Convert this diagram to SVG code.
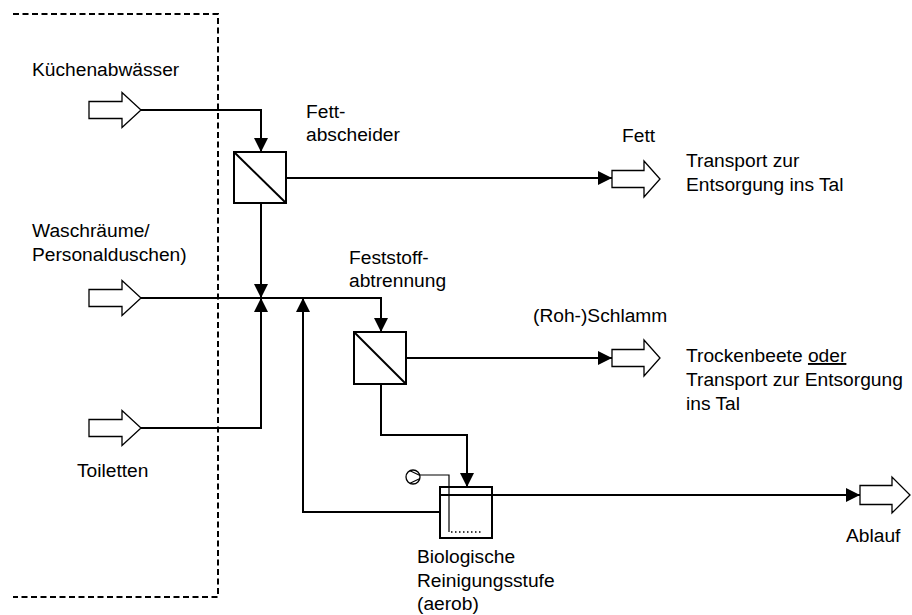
<svg xmlns="http://www.w3.org/2000/svg" width="912" height="615" viewBox="0 0 912 615">
<style>
text{font-family:"Liberation Sans",Arial,sans-serif;font-size:19.2px;fill:#000}
.flow{fill:none;stroke:#000;stroke-width:2}
.thin{fill:none;stroke:#000;stroke-width:1.2}
.box{fill:#fff;stroke:#000;stroke-width:2}
.big{fill:#fff;stroke:#000;stroke-width:1.3;stroke-linejoin:miter}
.dash{fill:none;stroke:#000;stroke-width:2;stroke-dasharray:6 3.5}
</style>
<defs>
<marker id="ah" viewBox="0 0 14 14" refX="14" refY="7" markerWidth="14" markerHeight="14" markerUnits="userSpaceOnUse" orient="auto">
<path d="M0,0 L14,7 L0,14 Z" fill="#000"/>
</marker>
</defs>
<rect width="912" height="615" fill="#fff"/>
<g id="boundary">
<path class="dash" d="M13,14 H218 V597 H13"/>
</g>
<g id="connectors">
<path class="flow" d="M141,110 H261 V152" marker-end="url(#ah)"/>
<path class="flow" d="M286,178 H612" marker-end="url(#ah)"/>
<path class="flow" d="M261,203 V298" marker-end="url(#ah)"/>
<path class="flow" d="M141,428 H261 V298" marker-end="url(#ah)"/>
<path class="flow" d="M141,298 H381 V332" marker-end="url(#ah)"/>
<path class="flow" d="M406,358 H612" marker-end="url(#ah)"/>
<path class="flow" d="M381,384 V435 H467 V487" marker-end="url(#ah)"/>
<path class="flow" d="M440,512 H303 V298" marker-end="url(#ah)"/>
<path class="flow" d="M492,495 H860" marker-end="url(#ah)"/>
</g>
<g id="in-kueche">
<path class="big" d="M89,101.5 H122 V92.5 L141,110 L122,127.5 V118.5 H89 Z"/>
<text x="32" y="76">Küchenabwässer</text>
</g>
<g id="in-wasch">
<path class="big" d="M89,289.5 H122 V280.5 L141,298 L122,315.5 V306.5 H89 Z"/>
<text x="32" y="237">Waschräume/</text>
<text x="32" y="261">Personalduschen)</text>
</g>
<g id="in-toiletten">
<path class="big" d="M89,419.5 H122 V410.5 L141,428 L122,445.5 V436.5 H89 Z"/>
<text x="77" y="477">Toiletten</text>
</g>
<g id="fettabscheider">
<rect class="box" x="234" y="152" width="52" height="51"/>
<path class="flow" d="M234,152 L286,203"/>
<text x="306" y="118">Fett-</text>
<text x="306" y="141">abscheider</text>
</g>
<g id="out-fett">
<path class="big" d="M612,170.5 H644 V161 L660,179 L644,197 V187.5 H612 Z"/>
<text x="622" y="142">Fett</text>
<text x="686" y="167">Transport zur</text>
<text x="686" y="191">Entsorgung ins Tal</text>
</g>
<g id="feststoffabtrennung">
<rect class="box" x="354" y="332" width="52" height="52"/>
<path class="flow" d="M354,332 L406,384"/>
<text x="349" y="264">Feststoff-</text>
<text x="349" y="287">abtrennung</text>
</g>
<g id="out-schlamm">
<path class="big" d="M612,349.5 H644 V340 L660,358 L644,376 V366.5 H612 Z"/>
<text x="533" y="322">(Roh-)Schlamm</text>
<text x="686" y="362">Trockenbeete <tspan text-decoration="underline">oder</tspan></text>
<text x="686" y="386">Transport zur Entsorgung</text>
<text x="686" y="410">ins Tal</text>
</g>
<g id="biologie">
<rect class="box" x="440" y="487" width="52" height="51"/>
<path class="flow" d="M440,495 H492"/>
<path class="thin" d="M420,475 H449 V532"/>
<path fill="none" stroke="#000" stroke-width="1.3" stroke-dasharray="1.5 2.5" d="M451,532 H482"/>
<circle cx="413" cy="477" r="7" fill="#fff" stroke="#000" stroke-width="1.3"/>
<path class="thin" d="M410,470.7 L420,475.5 M410,483.3 L420,478.5"/>
<text x="417" y="563">Biologische</text>
<text x="417" y="587">Reinigungsstufe</text>
<text x="417" y="610">(aerob)</text>
</g>
<g id="out-ablauf">
<path class="big" d="M860,485.5 H892 V477 L910,495 L892,513 V504.5 H860 Z"/>
<text x="846" y="542">Ablauf</text>
</g>
</svg>
